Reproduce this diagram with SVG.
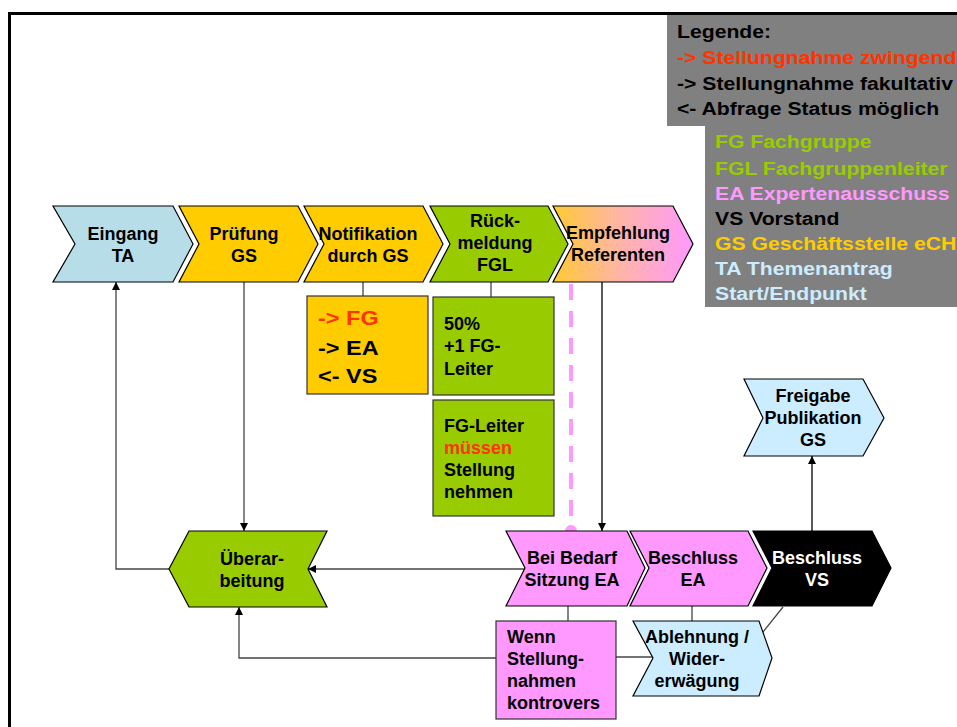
<svg xmlns="http://www.w3.org/2000/svg" width="957" height="727" viewBox="0 0 957 727">
<defs>
<style>
text{font-family:"Liberation Sans",Arial,sans-serif;font-weight:bold;font-size:18px;fill:#000}
.c{text-anchor:middle}
.shape{stroke:#000;stroke-width:1.2}
.box{stroke:#333;stroke-width:1.2}
.ln{fill:none;stroke:#444;stroke-width:1.3}
.lk{fill:none;stroke:#000;stroke-width:1.3}
.red{fill:#FF3300}
.lg{font-size:18.5px}
</style>
<marker id="ah" viewBox="0 0 10 10" refX="10" refY="5" markerWidth="8" markerHeight="8" markerUnits="userSpaceOnUse" orient="auto">
<path d="M0,0 L10,5 L0,10 z" fill="#000"/>
</marker>
<linearGradient id="gEmp" x1="0" y1="0" x2="1" y2="0">
<stop offset="0" stop-color="#FFC933"/>
<stop offset="0.45" stop-color="#FFB6A0"/>
<stop offset="1" stop-color="#FF99FF"/>
</linearGradient>
</defs>
<rect width="957" height="727" fill="#fff"/>
<path d="M9.5,727 V13.5 H957" fill="none" stroke="#000" stroke-width="3"/>

<g id="legend">
<rect x="667" y="15" width="290" height="111" fill="#808080"/>
<rect x="705" y="126" width="252" height="181" fill="#808080"/>
<g transform="translate(677,0) scale(1.146,1)">
<text class="lg" x="0" y="38">Legende:</text>
<text class="lg red" x="0" y="64">-&gt; Stellungnahme zwingend</text>
<text class="lg" x="0" y="90">-&gt; Stellungnahme fakultativ</text>
<text class="lg" x="0" y="115">&lt;- Abfrage Status möglich</text>
</g>
<g transform="translate(715,0) scale(1.146,1)">
<text class="lg" x="0" y="148" style="fill:#99CC00">FG Fachgruppe</text>
<text class="lg" x="0" y="175" style="fill:#99CC00">FGL Fachgruppenleiter</text>
<text class="lg" x="0" y="200" style="fill:#FF99FF">EA Expertenausschuss</text>
<text class="lg" x="0" y="225" style="fill:#000">VS Vorstand</text>
<text class="lg" x="0" y="250" style="fill:#FFCC00">GS Geschäftsstelle eCH</text>
<text class="lg" x="0" y="275" style="fill:#CCECFF">TA Themenantrag</text>
<text class="lg" x="0" y="300" style="fill:#CCECFF">Start/Endpunkt</text>
</g>
</g>

<g id="connectors">
<line class="ln" x1="363" y1="282" x2="363" y2="296"/>
<line class="ln" x1="491" y1="282" x2="491" y2="297"/>
<line x1="571" y1="284" x2="571" y2="525" stroke="#FF99FF" stroke-width="4" stroke-dasharray="16 11"/>
<circle cx="571" cy="531" r="6" fill="#FF99FF"/>
<line class="lk" x1="602" y1="282" x2="602" y2="531" marker-end="url(#ah)"/>
<line class="ln" x1="244" y1="282" x2="244" y2="531" marker-end="url(#ah)"/>
<polyline class="ln" points="169,569 116,569 116,282" marker-end="url(#ah)"/>
<line class="ln" x1="525" y1="569" x2="308" y2="569" marker-end="url(#ah)"/>
<polyline class="ln" points="496,658 239,658 239,607" marker-end="url(#ah)"/>
<line class="ln" x1="568" y1="606" x2="568" y2="621"/>
<line class="ln" x1="692" y1="606" x2="692" y2="621"/>
<line class="ln" x1="616" y1="657" x2="653" y2="657"/>
<line class="ln" x1="783" y1="607" x2="759" y2="637"/>
<line class="lk" x1="812" y1="531" x2="812" y2="456" marker-end="url(#ah)"/>
</g>

<g id="eingang">
<path class="shape" d="M53,206 H173 L193,244 L173,282 H53 L75,244 Z" fill="#B7DEE8"/>
<text class="c" x="123" y="240">Eingang</text>
<text class="c" x="123" y="262">TA</text>
</g>
<g id="pruefung">
<path class="shape" d="M179,206 H298 L318,244 L298,282 H179 L199,244 Z" fill="#FFCC00"/>
<text class="c" x="244" y="240">Prüfung</text>
<text class="c" x="244" y="262">GS</text>
</g>
<g id="notifikation">
<path class="shape" d="M304,206 H423 L443,244 L423,282 H304 L324,244 Z" fill="#FFCC00"/>
<text class="c" x="368" y="240">Notifikation</text>
<text class="c" x="368" y="262">durch GS</text>
</g>
<g id="rueckmeldung">
<path class="shape" d="M430,206 H548 L568,244 L548,282 H430 L450,244 Z" fill="#99CC00"/>
<text class="c" x="495" y="227">Rück-</text>
<text class="c" x="495" y="249">meldung</text>
<text class="c" x="495" y="271">FGL</text>
</g>
<g id="empfehlung">
<path class="shape" d="M553,206 H673 L693,244 L673,282 H553 L573,244 Z" fill="url(#gEmp)"/>
<text class="c" x="618" y="239">Empfehlung</text>
<text class="c" x="618" y="261">Referenten</text>
</g>

<g id="box-notifikation">
<rect class="box" x="307" y="296" width="121" height="98" fill="#FFCC00"/>
<g transform="translate(318,0) scale(1.12,1)">
<text x="0" y="325" class="red" style="font-size:21px">-&gt; FG</text>
<text x="0" y="355" style="font-size:21px">-&gt; EA</text>
<text x="0" y="383" style="font-size:21px">&lt;- VS</text>
</g>
</g>
<g id="box-50">
<rect class="box" x="433" y="297" width="121" height="98" fill="#99CC00"/>
<text x="444" y="330">50%</text>
<text x="444" y="352">+1 FG-</text>
<text x="444" y="375">Leiter</text>
</g>
<g id="box-fgleiter">
<rect class="box" x="433" y="400" width="121" height="116" fill="#99CC00"/>
<text x="444" y="432">FG-Leiter</text>
<text x="444" y="454" class="red">müssen</text>
<text x="444" y="476">Stellung</text>
<text x="444" y="498">nehmen</text>
</g>

<g id="ueberarbeitung">
<path class="shape" d="M189,531 H327 L308,569 L327,607 H189 L169,569 Z" fill="#99CC00"/>
<text class="c" x="252" y="565">Überar-</text>
<text class="c" x="252" y="587">beitung</text>
</g>
<g id="beibedarf">
<path class="shape" d="M506,531 H627 L645,568 L627,606 H506 L525,568 Z" fill="#FF99FF"/>
<text class="c" x="572" y="564">Bei Bedarf</text>
<text class="c" x="572" y="586">Sitzung EA</text>
</g>
<g id="beschluss-ea">
<path class="shape" d="M630,531 H748 L767,568 L748,606 H630 L649,568 Z" fill="#FF99FF"/>
<text class="c" x="693" y="564">Beschluss</text>
<text class="c" x="693" y="586">EA</text>
</g>
<g id="beschluss-vs">
<path class="shape" d="M753,531 H872 L891,568 L872,606 H753 L772,568 Z" fill="#000"/>
<text class="c" x="817" y="564" style="fill:#fff">Beschluss</text>
<text class="c" x="817" y="586" style="fill:#fff">VS</text>
</g>
<g id="wenn">
<rect class="box" x="496" y="621" width="120" height="98" fill="#FF99FF"/>
<text x="507" y="643">Wenn</text>
<text x="507" y="665">Stellung-</text>
<text x="507" y="687">nahmen</text>
<text x="507" y="709">kontrovers</text>
</g>
<g id="ablehnung">
<path class="shape" d="M633,621 H759 L772,658 L759,696 H633 L653,658 Z" fill="#CCECFF"/>
<text class="c" x="697" y="643">Ablehnung /</text>
<text class="c" x="697" y="665">Wider-</text>
<text class="c" x="697" y="687">erwägung</text>
</g>
<g id="freigabe">
<path class="shape" d="M744,379 H863 L884,418 L863,456 H744 L763,418 Z" fill="#CCECFF"/>
<text class="c" x="813" y="402">Freigabe</text>
<text class="c" x="813" y="424">Publikation</text>
<text class="c" x="813" y="446">GS</text>
</g>
</svg>
